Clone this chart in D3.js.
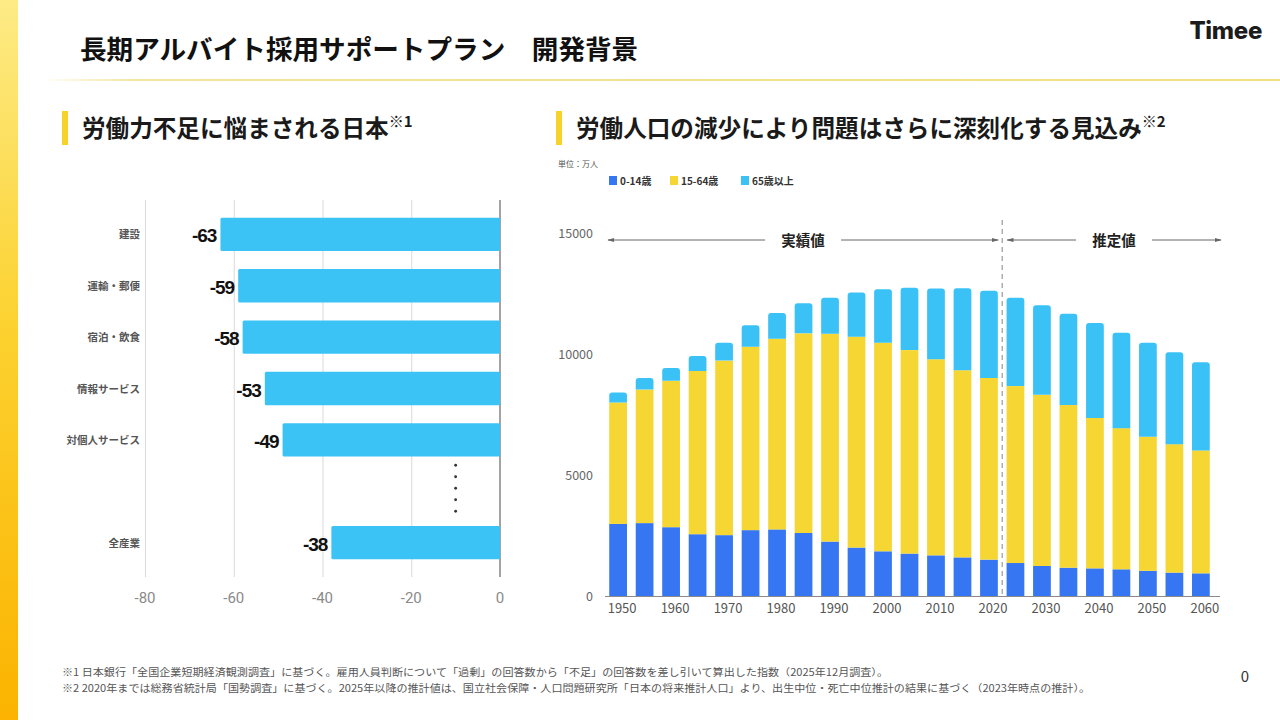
<!DOCTYPE html>
<html>
<head>
<meta charset="utf-8">
<script src="https://cdn.jsdelivr.net/npm/d3@7"></script>
<style>
  body { margin: 0; background: #fff; }
  svg { display: block; }
  text { font-family: "Noto Sans CJK JP", "Noto Sans", sans-serif; }
</style>
</head>
<body>
<svg id="slide" width="1280" height="720"></svg>
<script>
// left chart: 雇用人員判断DI
const industries = ["建設", "運輸・郵便", "宿泊・飲食", "情報サービス", "対個人サービス", "全産業"];
const diValues = [-63, -59, -58, -53, -49, -38];
const diTicks = [-80, -60, -40, -20, 0];

// right chart: 年齢区分別人口（万人）
const years = [1950, 1955, 1960, 1965, 1970, 1975, 1980, 1985, 1990, 1995, 2000, 2005, 2010,
               2015, 2020, 2025, 2030, 2035, 2040, 2045, 2050, 2055, 2060];
const age0to14 = [2979, 3012, 2843, 2553, 2515, 2722, 2751, 2603, 2249, 2001, 1847, 1752, 1680,
                  1595, 1503, 1363, 1240, 1169, 1142, 1103, 1041, 966, 937];
const age15to64 = [5017, 5517, 6047, 6744, 7212, 7581, 7883, 8251, 8590, 8716, 8622, 8409, 8103,
                   7735, 7509, 7310, 7076, 6722, 6213, 5832, 5540, 5307, 5078];
const age65plus = [411, 475, 535, 624, 739, 887, 1065, 1247, 1489, 1826, 2204, 2576, 2925,
                   3387, 3603, 3653, 3696, 3773, 3928, 3945, 3888, 3804, 3644];
const popTicks = [0, 5000, 10000, 15000];
const yearLabels = [1950, 1960, 1970, 1980, 1990, 2000, 2010, 2020, 2030, 2040, 2050, 2060];
const ageGroups = ["0-14歳", "15-64歳", "65歳以上"];
const ageColors = ["#3676f3", "#f6d633", "#3ac2f6"];

const svg = d3.select("#slide");
const defs = svg.append("defs");

// left strip gradient
const stripGrad = defs.append("linearGradient").attr("id", "strip")
  .attr("x1", 0).attr("y1", 0).attr("x2", 0).attr("y2", 1);
stripGrad.append("stop").attr("offset", "0%").attr("stop-color", "#fdeb86");
stripGrad.append("stop").attr("offset", "45%").attr("stop-color", "#fcd230");
stripGrad.append("stop").attr("offset", "100%").attr("stop-color", "#fbb300");
svg.append("rect").attr("x", 0).attr("y", 0).attr("width", 18).attr("height", 720)
  .attr("fill", "url(#strip)");

const lineGrad = defs.append("linearGradient").attr("id", "hline")
  .attr("x1", 0).attr("y1", 0).attr("x2", 1).attr("y2", 0);
lineGrad.append("stop").attr("offset", "0%").attr("stop-color", "#f3e59a").attr("stop-opacity", 0);
lineGrad.append("stop").attr("offset", "8%").attr("stop-color", "#f3e59a").attr("stop-opacity", 1);
lineGrad.append("stop").attr("offset", "100%").attr("stop-color", "#efe07f");
svg.append("rect").attr("x", 40).attr("y", 79).attr("width", 1240).attr("height", 2)
  .attr("fill", "url(#hline)");

// header
svg.append("text").attr("x", 80).attr("y", 59)
  .attr("font-size", 26.6).attr("font-weight", 700).attr("fill", "#111")
  .text("長期アルバイト採用サポートプラン　開発背景");
svg.append("text").attr("x", 1262).attr("y", 39).attr("text-anchor", "end")
  .style("font-family", "Inter, Lato, sans-serif")
  .attr("font-size", 24).attr("font-weight", 800).attr("fill", "#1c1c1c")
  .attr("letter-spacing", -0.3)
  .text("Timee");

// section titles
function sectionTitle(x, label, note) {
  svg.append("rect").attr("x", x).attr("y", 111).attr("width", 6).attr("height", 34)
    .attr("fill", "#f7d12c");
  const t = svg.append("text").attr("x", x + 20).attr("y", 137)
    .attr("font-size", 23.6).attr("font-weight", 700).attr("fill", "#1a1a1a").text(label);
  t.append("tspan").attr("font-size", 15).attr("dy", -10).text(note);
}
sectionTitle(62, "労働力不足に悩まされる日本", "※1");
sectionTitle(556, "労働人口の減少により問題はさらに深刻化する見込み", "※2");

// ---------- left chart ----------
const lx = d3.scaleLinear().domain([-80, 0]).range([145, 500]);
const slots = ["建設", "運輸・郵便", "宿泊・飲食", "情報サービス", "対個人サービス", "gap", "全産業"];
const ly = d3.scaleBand().domain(slots).range([209, 568]).paddingInner(0.35).paddingOuter(0.17);

const left = svg.append("g");
left.append("g")
  .attr("transform", "translate(0,577)")
  .call(d3.axisBottom(lx).tickValues(diTicks.slice(0, 4)).tickSize(-377).tickFormat(""))
  .call(g => g.select(".domain").remove())
  .call(g => g.selectAll("line").attr("stroke", "#d9d9d9"));
left.append("line")
  .attr("x1", lx(0)).attr("x2", lx(0)).attr("y1", 200).attr("y2", 577)
  .attr("stroke", "#666").attr("stroke-width", 1.2);

left.selectAll("text.tick")
  .data(diTicks).join("text")
  .attr("x", d => lx(d)).attr("y", 603)
  .attr("text-anchor", "middle")
  .style("font-family", "Roboto, sans-serif")
  .attr("font-size", 15).attr("fill", "#8a8a8a")
  .text(d => d);

left.selectAll("rect.bar")
  .data(industries).join("rect")
  .attr("x", (d, i) => lx(diValues[i]))
  .attr("y", d => ly(d))
  .attr("width", (d, i) => lx(0) - lx(diValues[i]))
  .attr("height", ly.bandwidth())
  .attr("rx", 1.5)
  .attr("fill", "#3bc3f6");

left.selectAll("text.cat")
  .data(industries).join("text")
  .attr("x", 140).attr("y", d => ly(d) + ly.bandwidth() / 2 + 4)
  .attr("text-anchor", "end")
  .attr("font-size", 10.5).attr("font-weight", 700).attr("fill", "#555")
  .text(d => d);

left.selectAll("text.val")
  .data(industries).join("text")
  .attr("x", (d, i) => lx(diValues[i]) - 4)
  .attr("y", d => ly(d) + ly.bandwidth() / 2 + 8)
  .attr("text-anchor", "end")
  .style("font-family", "'Liberation Sans', Arial, sans-serif")
  .attr("font-size", 19).attr("font-weight", 700).attr("fill", "#111")
  .attr("letter-spacing", -1)
  .text((d, i) => diValues[i]);

// dots for omitted industries
const gapTop = ly("gap") - ly.step() * 0.2;
left.selectAll("circle.dot")
  .data(d3.range(5)).join("circle")
  .attr("cx", lx(-10)).attr("cy", d => gapTop + 1 + d * 11.5)
  .attr("r", 1.4).attr("fill", "#333");

// ---------- right chart ----------
const rx = d3.scaleBand().domain(years).range([605, 1214]).paddingInner(0.33).paddingOuter(0.16);
const ry = d3.scaleLinear().domain([0, 15000]).range([596, 233]);

const right = svg.append("g");

right.append("text").attr("x", 558).attr("y", 167)
  .attr("font-size", 8).attr("fill", "#555").text("単位：万人");

const legend = right.selectAll("g.legend")
  .data(ageGroups).join("g")
  .attr("transform", (d, i) => `translate(${[609, 670, 741][i]},176)`);
legend.append("rect").attr("width", 8).attr("height", 9).attr("fill", (d, i) => ageColors[i]);
legend.append("text").attr("x", 11).attr("y", 9)
  .attr("font-size", 10).attr("font-weight", 700).attr("fill", "#333")
  .text(d => d);

right.selectAll("text.ytick")
  .data(popTicks).join("text")
  .attr("x", 593).attr("y", d => ry(d) + 4.5)
  .attr("text-anchor", "end")
  .attr("font-size", 12.5).attr("fill", "#666")
  .text(d => d);

const stackData = years.map((y, i) => ({
  year: y, a: age0to14[i], b: age15to64[i], c: age65plus[i]
}));
const series = d3.stack().keys(["a", "b", "c"])(stackData);

// path for the top segment with rounded upper corners
function roundTop(x, y0, y1, w, r) {
  return `M${x},${y0}V${y1 + r}Q${x},${y1} ${x + r},${y1}H${x + w - r}Q${x + w},${y1} ${x + w},${y1 + r}V${y0}Z`;
}

series.forEach((s, si) => {
  if (si < 2) {
    right.selectAll(`rect.s${si}`)
      .data(s).join("rect")
      .attr("x", d => rx(d.data.year))
      .attr("y", d => ry(d[1]))
      .attr("width", rx.bandwidth())
      .attr("height", d => ry(d[0]) - ry(d[1]))
      .attr("fill", ageColors[si]);
  } else {
    right.selectAll(`path.s${si}`)
      .data(s).join("path")
      .attr("d", d => roundTop(rx(d.data.year), ry(d[0]), ry(d[1]), rx.bandwidth(), 3))
      .attr("fill", ageColors[si]);
  }
});

right.append("line").attr("x1", 605).attr("x2", 1220).attr("y1", 596.5).attr("y2", 596.5)
  .attr("stroke", "#8a8a8a").attr("stroke-width", 1.2);

right.selectAll("text.xtick")
  .data(yearLabels).join("text")
  .attr("x", d => rx(d) + rx.bandwidth() / 2 + 4).attr("y", 613)
  .attr("text-anchor", "middle")
  .attr("font-size", 13).attr("fill", "#555")
  .text(d => d);

// 実績値 / 推定値 divider
const divX = (rx(2020) + rx.bandwidth() + rx(2025)) / 2;
right.append("line").attr("x1", divX).attr("x2", divX).attr("y1", 220).attr("y2", 596)
  .attr("stroke", "#9a9a9a").attr("stroke-width", 1.2).attr("stroke-dasharray", "5,4");

defs.append("marker").attr("id", "arrow")
  .attr("viewBox", "0 0 10 10").attr("refX", 9).attr("refY", 5)
  .attr("markerWidth", 7).attr("markerHeight", 7).attr("orient", "auto-start-reverse")
  .append("path").attr("d", "M0,2L10,5L0,8Z").attr("fill", "#666");

function spanLabel(x0, x1, label) {
  const mid = (x0 + x1) / 2;
  right.append("line").attr("x1", mid - 38).attr("x2", x0).attr("y1", 240).attr("y2", 240)
    .attr("stroke", "#666").attr("stroke-width", 1).attr("marker-end", "url(#arrow)");
  right.append("line").attr("x1", mid + 38).attr("x2", x1).attr("y1", 240).attr("y2", 240)
    .attr("stroke", "#666").attr("stroke-width", 1).attr("marker-end", "url(#arrow)");
  right.append("text").attr("x", mid).attr("y", 245.5).attr("text-anchor", "middle")
    .attr("font-size", 14.5).attr("font-weight", 700).attr("fill", "#222").text(label);
}
spanLabel(608, divX - 4, "実績値");
spanLabel(divX + 5, 1221, "推定値");

// footnotes
const notes = [
  "※1 日本銀行「全国企業短期経済観測調査」に基づく。雇用人員判断について「過剰」の回答数から「不足」の回答数を差し引いて算出した指数（2025年12月調査）。",
  "※2 2020年までは総務省統計局「国勢調査」に基づく。2025年以降の推計値は、国立社会保障・人口問題研究所「日本の将来推計人口」より、出生中位・死亡中位推計の結果に基づく（2023年時点の推計）。"
];
svg.selectAll("text.note")
  .data(notes).join("text")
  .attr("x", 62).attr("y", (d, i) => 676 + i * 16)
  .attr("font-size", 10).attr("fill", "#555")
  .attr("textLength", (d, i) => [826, 1028][i]).attr("lengthAdjust", "spacingAndGlyphs")
  .text(d => d);

svg.append("text").attr("x", 1245).attr("y", 682).attr("text-anchor", "middle")
  .attr("font-size", 15).attr("fill", "#333").text("0");
</script>
</body>
</html>
